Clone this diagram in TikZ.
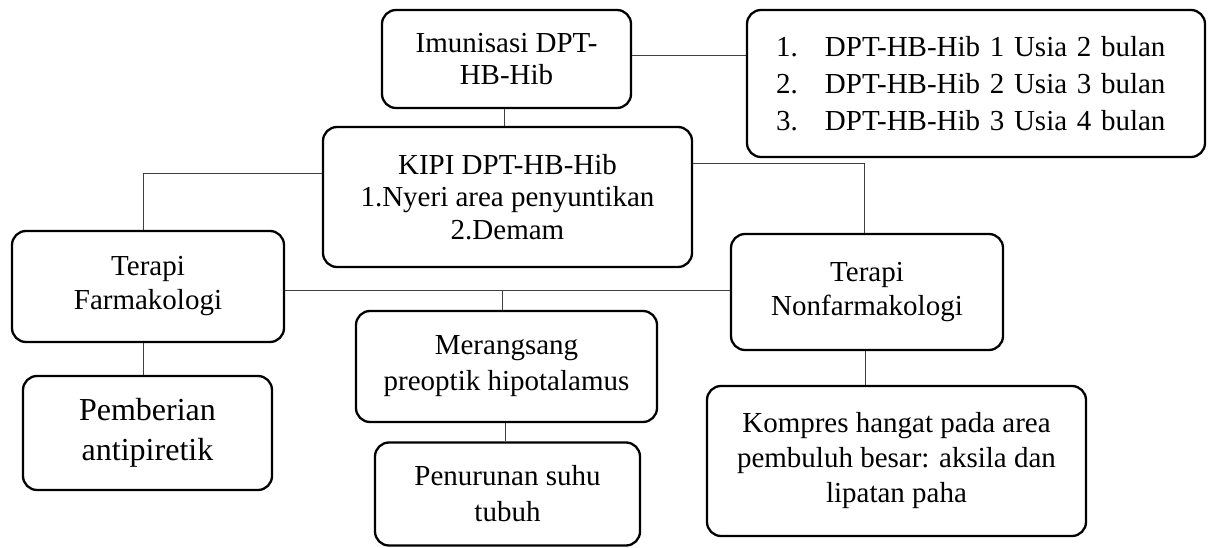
\documentclass[tikz,border=0pt]{standalone}
\usepackage{fontspec}
\setmainfont{Liberation Serif}

\tikzset{
  kotak/.style={draw, rounded corners=14pt, line width=2.3pt, align=center,
    inner sep=0pt, font=\fontsize{29}{34}\selectfont},
  garis/.style={line width=1pt, black!75}
}

\newcommand{\nomor}[1]{\leavevmode\hbox to 49pt{#1\hfil}}

\begin{document}
\begin{tikzpicture}[x=1pt, y=-1pt]

\useasboundingbox (0,0) rectangle (1208,548);

% Imunisasi
\node[kotak, minimum width=249pt, minimum height=98pt,
  font=\fontsize{29}{32}\selectfont] (imun) at (506.5,59)
{Imunisasi DPT-\\HB-Hib};

% Jadwal
\node[kotak, minimum width=458pt, minimum height=147pt, align=left,
  text width=400pt, font=\fontsize{29}{37}\selectfont] (jadwal) at (976,83.5)
{\nomor{1.}DPT-HB-Hib 1 Usia 2 bulan\\
\nomor{2.}DPT-HB-Hib 2 Usia 3 bulan\\
\nomor{3.}DPT-HB-Hib 3 Usia 4 bulan};

% KIPI
\node[kotak, minimum width=369pt, minimum height=140pt,
  font=\fontsize{29}{32.5}\selectfont] (kipi) at (507.5,197)
{KIPI DPT-HB-Hib\\1.Nyeri area penyuntikan\\2.Demam};

% Terapi
\node[kotak, minimum width=272pt, minimum height=111pt] (farma) at (148,286.5)
{Terapi\\Farmakologi};

\node[kotak, minimum width=272pt, minimum height=116pt] (nonfarma) at (867,292)
{Terapi\\Nonfarmakologi};

% Hasil
\node[kotak, minimum width=249pt, minimum height=114pt,
  font=\fontsize{32}{40}\selectfont] (beri) at (147.5,433)
{Pemberian\\antipiretik};

\node[kotak, minimum width=301pt, minimum height=111pt,
  font=\fontsize{29}{36}\selectfont] (rangsang) at (506.5,366.5)
{Merangsang\\preoptik hipotalamus};

\node[kotak, minimum width=265pt, minimum height=103pt,
  font=\fontsize{29}{36}\selectfont] (turun) at (507.5,494)
{Penurunan suhu\\tubuh};

\node[kotak, minimum width=379pt, minimum height=150pt,
  font=\fontsize{29}{35}\selectfont] (kompres) at (896.5,461)
{Kompres hangat pada area\\pembuluh besar: aksila dan\\lipatan paha};

% Garis
\draw[garis] ([yshift=3pt]imun.east) -- ([yshift=3pt]imun.east -| jadwal.west);
\draw[garis] ([xshift=-2pt]imun.south) -- ([xshift=-2pt]imun.south |- kipi.north);
\draw[garis] ([yshift=23pt]kipi.west) -| ([xshift=-5pt]farma.north);
\draw[garis] ([yshift=33pt]kipi.east) -| ([xshift=-3pt]nonfarma.north);
\draw[garis] ([yshift=-4.5pt]farma.east) coordinate (kiri)
  -- (kiri -| nonfarma.west);
\draw[garis] ([xshift=-4.5pt]rangsang.north) -- ([xshift=-4.5pt]rangsang.north |- kiri);
\draw[garis] ([xshift=-5pt]farma.south) -- ([xshift=-5pt]farma.south |- beri.north);
\draw[garis] ([xshift=-1.5pt]rangsang.south) -- ([xshift=-1.5pt]rangsang.south |- turun.north);
\draw[garis] ([xshift=-2pt]nonfarma.south) -- ([xshift=-2pt]nonfarma.south |- kompres.north);

\end{tikzpicture}
\end{document}
